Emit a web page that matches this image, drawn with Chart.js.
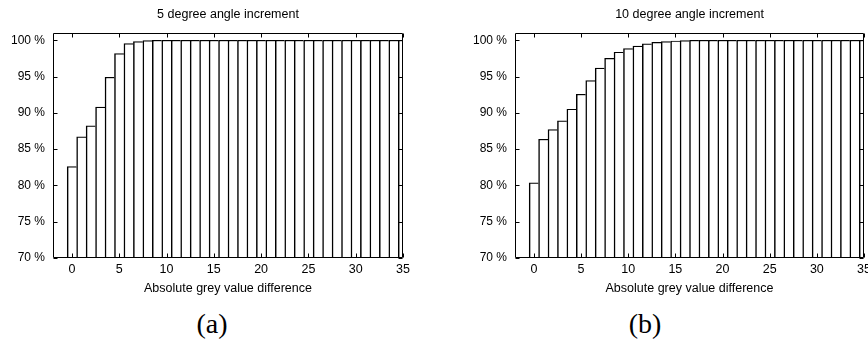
<!DOCTYPE html>
<html>
<head>
<meta charset="utf-8">
<script src="https://cdn.jsdelivr.net/npm/chart.js@4/dist/chart.umd.min.js"></script>
<style>
  body { margin: 0; background: #fff; }
  #wrap { position: relative; width: 868px; height: 347px; overflow: hidden; background: #fff; }
  .box { position: absolute; top: 0; width: 434px; height: 300px; }
  .cap { position: absolute; top: 308px; width: 60px; text-align: center;
         font-family: "Liberation Serif", "DejaVu Serif", serif; font-size: 28px; color: #000; }
</style>
</head>
<body>
<div id="wrap">
  <div class="box" style="left:0"><canvas id="chartA" width="434" height="300"></canvas></div>
  <div class="box" style="left:434px"><canvas id="chartB" width="434" height="300"></canvas></div>
  <div class="cap" style="left:182px">(a)</div>
  <div class="cap" style="left:615px">(b)</div>
</div>
<script>
// absolute grey value difference (x)
const greyDiff = [0,1,2,3,4,5,6,7,8,9,10,11,12,13,14,15,16,17,18,19,20,21,22,23,24,25,26,27,28,29,30,31,32,33,34,35];
// cumulative % - 5 degree increment
const pct5 = [82.6,86.7,88.2,90.8,94.9,98.15,99.55,99.82,99.95,100,100,100,100,100,100,100,100,100,100,100,100,100,100,100,100,100,100,100,100,100,100,100,100,100,100,100];
// cumulative % - 10 degree increment
const pct10 = [80.35,86.35,87.7,88.9,90.5,92.55,94.45,96.15,97.5,98.35,98.85,99.2,99.5,99.7,99.82,99.9,99.95,100,100,100,100,100,100,100,100,100,100,100,100,100,100,100,100,100,100,100];
const xTicks = [0,5,10,15,20,25,30,35];
const yTicks = [70,75,80,85,90,95,100];

// 네모 테두리 + 안쪽으로 들어간 눈금 (gnuplot 스타일)
const framePlugin = {
  id: 'frame',
  afterDatasetsDraw(c){
    const ctx = c.ctx, a = c.chartArea, x = c.scales.x, y = c.scales.y;
    const L = Math.round(a.left)+0.5, R = Math.round(a.right)-0.5;
    const T = Math.round(a.top)+0.5, B = Math.round(a.bottom)-0.5;
    ctx.save();
    ctx.strokeStyle = '#000';
    ctx.lineWidth = 1;
    ctx.beginPath();
    ctx.rect(L, T, R-L, B-T);
    xTicks.forEach(v=>{
      const px = Math.round(x.getPixelForValue(v))+0.5;
      ctx.moveTo(px, B); ctx.lineTo(px, B-4);
      ctx.moveTo(px, T); ctx.lineTo(px, T+4);
    });
    yTicks.forEach(v=>{
      const py = Math.round(y.getPixelForValue(v))+0.5;
      ctx.moveTo(L, py); ctx.lineTo(L+4, py);
      ctx.moveTo(R, py); ctx.lineTo(R-4, py);
    });
    ctx.stroke();
    ctx.restore();
  }
};

function makeChart(id, title, values, yWidth, padRight){
  return new Chart(document.getElementById(id), {
    type: 'bar',
    data: {
      datasets: [{
        data: greyDiff.map((g,i)=>({x:g, y:values[i]})),
        backgroundColor: '#fff',
        borderColor: '#000',
        borderWidth: {left:1.5, top:1.2, right:0, bottom:0},
        borderSkipped: false,
        barPercentage: 1,
        categoryPercentage: 1
      }]
    },
    options: {
      responsive: false,
      animation: false,
      layout: { padding: {left:0, right:padRight, top:0, bottom:0} },
      plugins: {
        legend: {display:false},
        tooltip: {enabled:false},
        title: {
          display: true, text: title, color: '#000', fullSize: false,
          font: {family:'"Liberation Sans", Arial, sans-serif', size:12.5, weight:'normal'},
          padding: {top:7, bottom:11}
        }
      },
      scales: {
        x: {
          type: 'linear', min: -2, max: 35, offset: false,
          grid: {display:false, drawTicks:false, offset:false},
          border: {display:false},
          afterBuildTicks: s => { s.ticks = xTicks.map(v=>({value:v})); },
          afterFit: s => { s.height = 42; s.paddingLeft = 0; s.paddingRight = 0; },
          ticks: {
            color:'#000', padding:4, maxRotation:0, autoSkip:false,
            font: {family:'"Liberation Sans", Arial, sans-serif', size:12.5}
          },
          title: {
            display: true, text: 'Absolute grey value difference', color:'#000',
            padding: {top:0, bottom:4},
            font: {family:'"Liberation Sans", Arial, sans-serif', size:12.5}
          }
        },
        y: {
          min: 70, max: 101,
          grid: {display:false, drawTicks:false},
          border: {display:false},
          afterBuildTicks: s => { s.ticks = yTicks.map(v=>({value:v})); },
          afterFit: s => { s.width = yWidth; s.paddingTop = 0; s.paddingBottom = 0; },
          ticks: {
            color:'#000', padding:8,
            callback: v => v + ' %',
            font: {family:'"Liberation Sans", Arial, sans-serif', size:12}
          }
        }
      }
    },
    plugins: [framePlugin]
  });
}

makeChart('chartA', '5 degree angle increment', pct5, 53, 31);
makeChart('chartB', '10 degree angle increment', pct10, 81, 4);
</script>
</body>
</html>
